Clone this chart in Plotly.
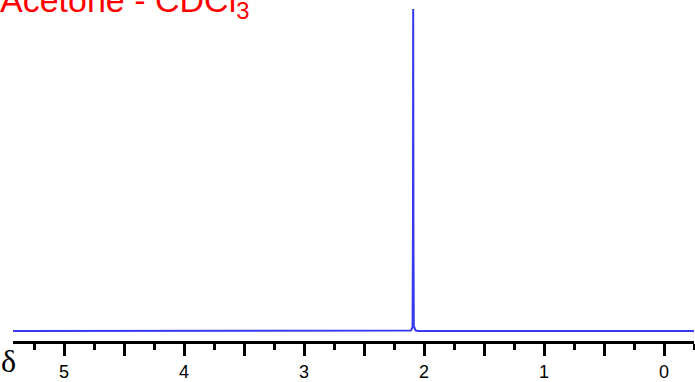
import plotly.graph_objects as go

# Spectrum values (ppm, relative intensity)
ppm = [5.43, 2.13, 2.11, 2.10, 2.095, 2.092, 2.09, 2.088, 2.085, 2.08, 2.07, 2.05, -0.25]
intensity = [0.0, 0.0, 0.002, 0.008, 0.015, 0.3, 1.0, 0.3, 0.015, 0.008, 0.002, 0.0, 0.0]

tick_vals = [0, 0.5, 1, 1.5, 2, 2.5, 3, 3.5, 4, 4.5, 5]
tick_text = ["0", "", "1", "", "2", "", "3", "", "4", "", "5"]

title_text = "Acetone - CDCl<sub>3</sub>"
axis_symbol = "δ"

fig = go.Figure()
fig.add_trace(go.Scatter(
    x=ppm, y=intensity, mode="lines",
    line=dict(color="#3838f0", width=2),
    hoverinfo="skip", showlegend=False,
))

fig.update_layout(
    width=695, height=382,
    margin=dict(l=13, r=1, t=0, b=38),
    paper_bgcolor="white", plot_bgcolor="white",
    xaxis=dict(
        range=[5.425, -0.25],
        showgrid=False, zeroline=False,
        showline=True, linecolor="black", linewidth=3,
        ticks="outside", ticklen=12, tickwidth=3, tickcolor="black",
        tickmode="array", tickvals=tick_vals, ticktext=tick_text,
        tickfont=dict(family="Liberation Sans, Arial", size=18, color="black"),
        minor=dict(ticks="outside", ticklen=6, tickwidth=3, tickcolor="black",
                   tickmode="linear", tick0=0, dtick=0.25, showgrid=False),
    ),
    yaxis=dict(
        range=[-0.0308, 1.0277],
        visible=False, showgrid=False, zeroline=False,
    ),
    annotations=[
        dict(text=title_text, xref="paper", yref="paper", x=0, y=1,
             xanchor="left", yanchor="top", xshift=-15, yshift=21,
             showarrow=False,
             font=dict(family="Liberation Sans, Arial", size=34, color="red")),
        dict(text=axis_symbol, xref="paper", yref="paper", x=0, y=0,
             xanchor="left", yanchor="top", xshift=-14, yshift=0,
             showarrow=False,
             font=dict(family="Liberation Serif, Times New Roman", size=32, color="black")),
    ],
)

fig.write_html("out.html", config={"displayModeBar": False},
               post_script="document.body.style.margin='0px';")
